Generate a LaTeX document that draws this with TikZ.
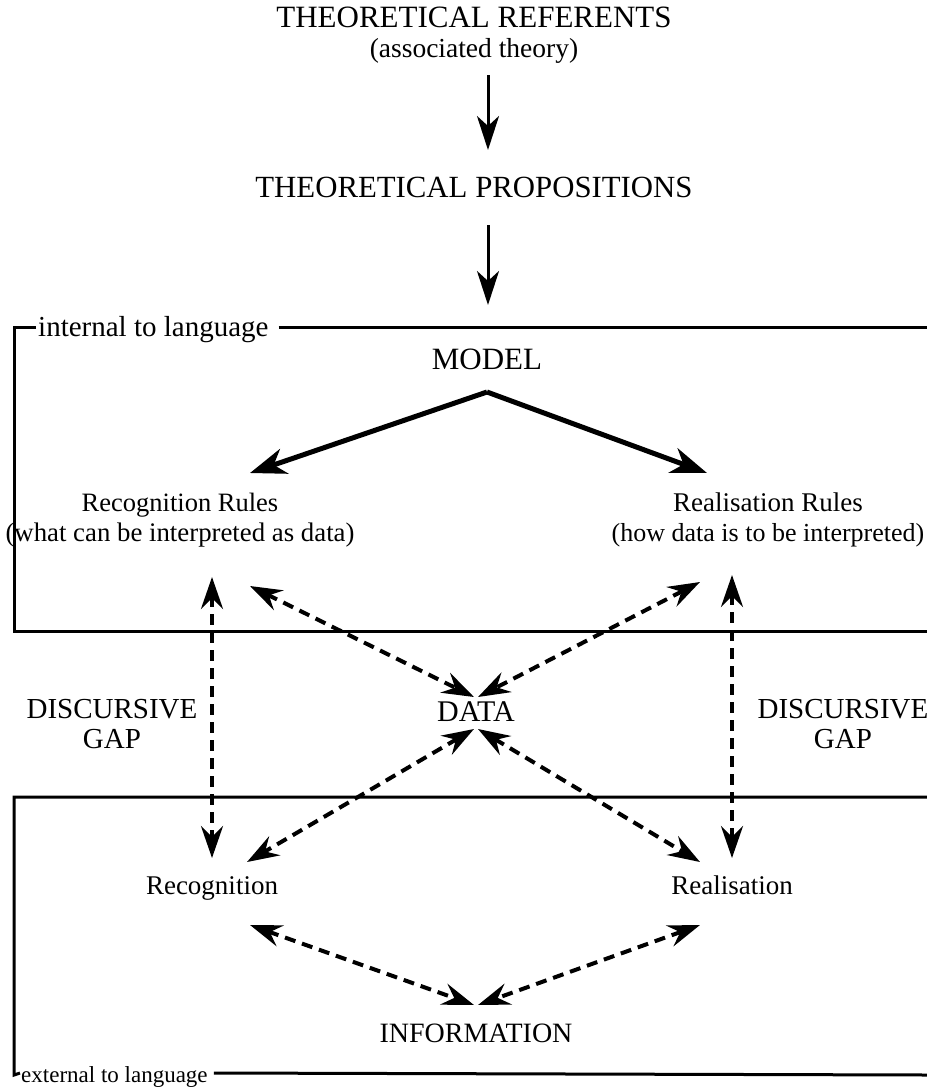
\documentclass[tikz,border=0pt]{standalone}
\usepackage{fontspec}
\setmainfont{Liberation Serif}
\usetikzlibrary{arrows.meta}
\newcommand{\fsz}[1]{\fontsize{#1}{30}\selectfont}
\begin{document}
\begin{tikzpicture}[x=1pt,y=-1pt,
  lbl/.style={inner sep=0pt, align=center},
  one/.style={inner sep=0pt, text height=19pt, text depth=0pt},
  boxline/.style={line width=3pt},
  solidarr/.style={line width=3pt, -{Stealth[length=34pt,width=22pt,inset=10pt]}},
  modelarr/.style={line width=5pt, -{Stealth[length=36pt,width=26pt,inset=11pt]}},
  dasharr/.style={line width=4pt, dash pattern=on 11pt off 7pt, {Stealth[length=32pt,width=22pt,inset=11pt]}-{Stealth[length=32pt,width=22pt,inset=11pt]}}
]
\useasboundingbox (0,0) rectangle (927,1088);
% texts
\node[one, font=\fsz{31}] (refA) at (474,18) {THEORETICAL REFERENTS};
\node[one, font=\fsz{27.5}] (refB) at (474,48) {(associated theory)};
\node[one, font=\fsz{30.8}] (prop) at (474,188) {THEORETICAL PROPOSITIONS};
\node[one, font=\fsz{31}] (model) at (487,360) {MODEL};
\node[one, font=\fsz{26.5}] (recrA) at (180,502) {Recognition Rules};
\node[one, font=\fsz{26.8}] (recrB) at (180,532) {(what can be interpreted as data)};
\node[one, font=\fsz{27}] (realrA) at (768,502) {Realisation Rules};
\node[one, font=\fsz{26}] (realrB) at (768,532) {(how data is to be interpreted)};
\node[one, font=\fsz{30}] (data) at (476,712) {DATA};
\node[lbl, font=\fsz{29}] (gapL) at (112,724) {DISCURSIVE\\GAP};
\node[lbl, font=\fsz{29}] (gapR) at (843,724) {DISCURSIVE\\GAP};
\node[one, font=\fsz{27}] (recog) at (212,885) {Recognition};
\node[one, font=\fsz{27}] (real) at (732,885) {Realisation};
\node[one, font=\fsz{28}] (info) at (476,1033) {INFORMATION};
\node[one, font=\fsz{29}, anchor=west] (intl) at (38,327) {internal to language};
\node[one, font=\fsz{23}, anchor=west] (extl) at (21,1073) {external to language};
% boxes
\draw[boxline] ([xshift=-2pt]intl.west) -- (14,327) -- (14,631) -- (927,631);
\draw[boxline] ([xshift=10pt]intl.east) -- (927,327);
\draw[boxline] (927,797) -- (14,797) -- (14,1075) -- ([xshift=-1pt]extl.west);
\draw[boxline] ([xshift=6pt]extl.east) -- (927,1075);
% solid arrows
\draw[solidarr] ([xshift=14pt,yshift=-27pt]refB.center) -- ([xshift=14pt,yshift=38pt]prop.center);
\draw[solidarr] ([xshift=14pt,yshift=-37pt]prop.center) -- ([xshift=1pt,yshift=55pt]model.center);
\draw[modelarr] ([yshift=-32pt]model.center) -- ([xshift=70pt,yshift=29pt]recrA.center);
\draw[modelarr] ([yshift=-32pt]model.center) -- ([xshift=-61pt,yshift=29pt]realrA.center);
% dashed arrows
\draw[dasharr] ([xshift=32pt,yshift=-45pt]recrB.center) -- ([yshift=27pt]recog.center);
\draw[dasharr] ([xshift=-36pt,yshift=-43pt]realrB.center) -- ([yshift=27pt]real.center);
\draw[dasharr] ([xshift=70pt,yshift=-54pt]recrB.center) -- ([xshift=-2pt,yshift=15pt]data.center);
\draw[dasharr] ([xshift=-68pt,yshift=-50pt]realrB.center) -- ([xshift=2pt,yshift=15pt]data.center);
\draw[dasharr] ([xshift=-2pt,yshift=-17pt]data.center) -- ([xshift=35pt,yshift=23pt]recog.center);
\draw[dasharr] ([xshift=2pt,yshift=-17pt]data.center) -- ([xshift=-32pt,yshift=23pt]real.center);
\draw[dasharr] ([xshift=38pt,yshift=-40pt]recog.center) -- ([xshift=-2pt,yshift=28pt]info.center);
\draw[dasharr] ([xshift=-32pt,yshift=-40pt]real.center) -- ([xshift=2pt,yshift=28pt]info.center);
\end{tikzpicture}
\end{document}
